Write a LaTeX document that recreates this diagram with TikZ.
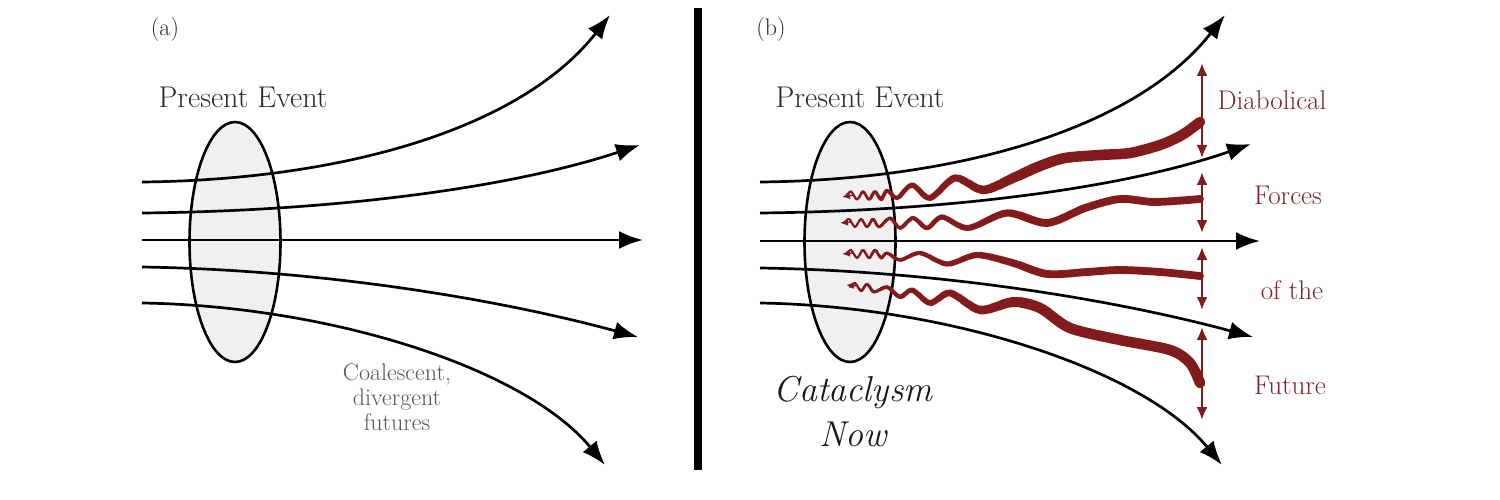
\documentclass[tikz,border=0pt]{standalone}
\usetikzlibrary{arrows.meta,shapes.geometric}
\definecolor{wigred}{HTML}{821B1B}
\definecolor{labred}{HTML}{7A2424}
\definecolor{efill}{HTML}{F0F0F0}
\definecolor{coalgray}{HTML}{555555}
\definecolor{txtgray}{HTML}{2A2A2A}
\begin{document}
\begin{tikzpicture}[x=1pt,y=-1pt,
  fline/.style={line width=2.7pt, black, -{Latex[length=24pt,width=18pt]}},
  ev/.style={ellipse, draw, line width=2.6pt, fill=efill, minimum width=91pt, minimum height=240pt, inner sep=0pt},
  panlab/.style={font=\fontsize{24}{28}\selectfont, text=txtgray},
  pelab/.style={font=\fontsize{30}{34}\selectfont, text=txtgray},
  coal/.style={font=\fontsize{24}{25}\selectfont, text=coalgray, align=center},
  cata/.style={font=\fontsize{36}{45}\selectfont\itshape, text=black!90, align=center},
  redlab/.style={font=\fontsize{27}{30}\selectfont, text=labred},
  rarr/.style={wigred, line width=2.2pt, {Latex[length=13pt,width=11pt]}-{Latex[length=13pt,width=11pt]}},
  wig/.style={wigred, line cap=round, line join=round},
  wtip/.style={wigred, line width=1.4pt, -{Latex[length=8pt,width=7pt]}},
  w1/.style={insert path={plot[smooth] coordinates {(846,196) (851,191.5) (857,199.5) (863,191.5) (869,199.5) (875,191.5) (881,199.5) (887,190.5) (897,198) (912,185) (930,198) (955,178) (983,190) (1013,178) (1040,166) (1065,158) (1100,155) (1130,153) (1160,145) (1182,135) (1200,122)}}},
  w2/.style={insert path={plot[smooth] coordinates {(844,223) (849,219) (855,227) (861,219) (867,227) (873,219) (879,227) (890,218) (900,228) (913,218) (927,228) (942,217) (968,228) (1007,213) (1047,223) (1085,208) (1120,199) (1155,202) (1200,199)}}},
  w3/.style={insert path={plot[smooth] coordinates {(846,254) (851,250) (857,258) (863,250) (869,258) (875,250) (881,258) (887,253) (900,260) (920,253) (947,264) (977,255) (1013,263) (1047,274) (1087,272) (1120,270) (1160,272) (1200,276)}}},
  w4/.style={insert path={plot[smooth] coordinates {(850,287) (855,283) (861,291) (867,284) (874,292) (887,287) (900,297) (912,290) (930,303) (950,293) (980,310) (1013,302) (1040,308) (1070,328) (1120,340) (1170,350) (1190,363) (1200,383)}}}
]
\useasboundingbox (0,0) rectangle (1500,500);

% ---------- panel (a) ----------
\node[ev] (ea) at (235,242) {};
\coordinate (a1) at (142,182);
\coordinate (a2) at (142,213);
\coordinate (a3) at (142,240);
\coordinate (a4) at (142,267);
\coordinate (a5) at (142,303);
\coordinate (ta1) at (610,15);
\coordinate (ta2) at (640,145);
\coordinate (ta3) at (643,240);
\coordinate (ta4) at (638,337);
\coordinate (ta5) at (605,465);
\draw[fline] (a1) .. controls (340,180) and (520,130) .. (ta1);
\draw[fline] (a2) .. controls (335,211) and (510,188) .. (ta2);
\draw[fline] (a3) -- (ta3);
\draw[fline] (a4) .. controls (330,270) and (505,301) .. (ta4);
\draw[fline] (a5) .. controls (330,306) and (525,368) .. (ta5);
\node[panlab] (la) at (165,30) {(a)};
\node[pelab] (pa) at (243,97) {Present Event};
\node[coal] (ca) at (397,397) {Coalescent,\\divergent\\futures};

% ---------- divider ----------
\coordinate (d1) at (698,8);
\coordinate (d2) at (698,470);
\draw[line width=8pt] (d1) -- (d2);

% ---------- panel (b) ----------
\node[ev] (eb) at (850,242) {};
\coordinate (b1) at (760,182);
\coordinate (b2) at (760,213);
\coordinate (b3) at (760,241);
\coordinate (b4) at (760,268);
\coordinate (b5) at (760,303);
\coordinate (tb1) at (1225,15);
\coordinate (tb2) at (1251,144);
\coordinate (tb3) at (1260,241);
\coordinate (tb4) at (1253,337);
\coordinate (tb5) at (1222,465);
\draw[fline] (b1) .. controls (955,180) and (1135,130) .. (tb1);
\draw[fline] (b2) .. controls (950,211) and (1125,188) .. (tb2);
\draw[fline] (b3) -- (tb3);
\draw[fline] (b4) .. controls (945,271) and (1120,301) .. (tb4);
\draw[fline] (b5) .. controls (945,306) and (1142,368) .. (tb5);
\node[panlab] (lb) at (771,30) {(b)};
\node[pelab] (pb) at (860,97) {Present Event};
\node[cata] (cb) at (853,412) {Cataclysm\\Now};

% red wiggles with growing thickness
\foreach \p/\m in {w1/8.5, w2/5.8, w3/5.8, w4/8.5}{
  \foreach \i in {0,...,37}{
    \pgfmathsetmacro{\xa}{840+\i*10}
    \pgfmathsetmacro{\lw}{2.0+\m*min(1,max(0,(\xa+5-850)/175))}
    \begin{scope}
      \clip (\xa,0) rectangle (\xa+10.6,500);
      \draw[wig, line width=\lw pt, \p];
    \end{scope}
  }
}
\draw[wtip] (854,195) -- (842,197);
\draw[wtip] (852,222) -- (840,223);
\draw[wtip] (854,253) -- (842,254);
\draw[wtip] (858,286) -- (846,285);

% red double arrows
\coordinate (r1a) at (1202,63);  \coordinate (r1b) at (1202,158);
\coordinate (r2a) at (1202,172); \coordinate (r2b) at (1202,233);
\coordinate (r3a) at (1202,247); \coordinate (r3b) at (1202,310);
\coordinate (r4a) at (1202,327); \coordinate (r4b) at (1202,420);
\draw[rarr] (r1a) -- (r1b);
\draw[rarr] (r2a) -- (r2b);
\draw[rarr] (r3a) -- (r3b);
\draw[rarr] (r4a) -- (r4b);
\node[redlab] (f1) at (1272,100) {Diabolical};
\node[redlab] (f2) at (1288,195) {Forces};
\node[redlab] (f3) at (1292,290) {of the};
\node[redlab] (f4) at (1290,385) {Future};
\end{tikzpicture}
\end{document}
